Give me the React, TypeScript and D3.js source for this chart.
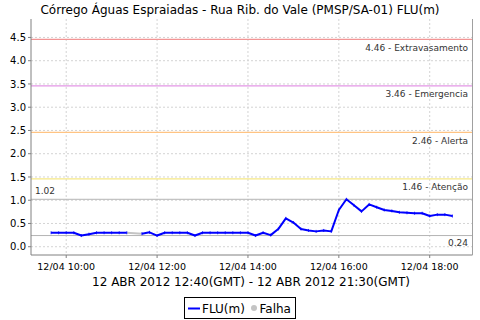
import React from "react";
import * as d3 from "d3";

const TITLE = "Córrego Águas Espraiadas - Rua Rib. do Vale (PMSP/SA-01) FLU(m)";
const SUBTITLE = "12 ABR 2012 12:40(GMT) - 12 ABR 2012 21:30(GMT)";
const START = { h: 9, m: 40 };
const STEP_MIN = 10;
// FLU(m) every 10 min from 09:40 to 18:30; null = Falha
const fluValues: (number | null)[] = [
  0.30, 0.30, 0.30, 0.30, 0.24, 0.27, 0.30, 0.30, 0.30, 0.30, 0.30,
  null,
  0.28, 0.31, 0.24, 0.30, 0.30, 0.30, 0.30, 0.24, 0.30, 0.30, 0.30, 0.30, 0.30, 0.30,
  0.30, 0.24, 0.30, 0.25, 0.38, 0.61, 0.52, 0.38, 0.35, 0.33, 0.35, 0.33,
  0.79, 1.02, 0.89, 0.76, 0.91, 0.85, 0.79, 0.77, 0.74, 0.73, 0.72, 0.72,
  0.66, 0.69, 0.69, 0.66,
];
const thresholdValues = [4.46, 3.46, 2.46, 1.46];
const thresholdLabels = ["4.46 - Extravasamento", "3.46 - Emergencia", "2.46 - Alerta", "1.46 - Atenção"];
const thresholdColors = ["#f29494", "#e396e6", "#ffc483", "#f6e886"];
const maxValue = 1.02;
const minValue = 0.24;
const yTicks = [0.0, 0.5, 1.0, 1.5, 2.0, 2.5, 3.0, 3.5, 4.0, 4.5];
const xTickHours = [10, 12, 14, 16, 18];
const xTickLabels = ["12/04 10:00", "12/04 12:00", "12/04 14:00", "12/04 16:00", "12/04 18:00"];
const legendLabels = ["FLU(m)", "Falha"];

const FONT = "DejaVu Sans, sans-serif";

export default function App() {
  const W = 480, H = 320;
  const L = 31, R = 472.5, T = 19, B = 255;
  const times = fluValues.map((_, i) => new Date(2012, 3, 12, START.h, START.m + i * STEP_MIN));
  const t0 = times[0].getTime(), t1 = times[times.length - 1].getTime();
  const pad = (t1 - t0) * 0.05;
  const x = d3.scaleTime().domain([new Date(t0 - pad), new Date(t1 + pad)]).range([L, R]);
  const y = d3.scaleLinear().domain([-0.178, 4.897]).range([B, T]);

  const pts = fluValues.map((v, i) => ({ t: times[i], v }));
  const line = d3.line<{ t: Date; v: number | null }>()
    .defined((d) => d.v !== null)
    .x((d) => x(d.t))
    .y((d) => y(d.v as number));

  const gaps: { a: { t: Date; v: number }; b: { t: Date; v: number } }[] = [];
  for (let i = 0; i < pts.length; i++) {
    if (pts[i].v === null) {
      let a = i - 1; while (a >= 0 && pts[a].v === null) a--;
      let b = i + 1; while (b < pts.length && pts[b].v === null) b++;
      if (a >= 0 && b < pts.length && !gaps.find((g) => g.a.t === pts[a].t))
        gaps.push({ a: pts[a] as any, b: pts[b] as any });
    }
  }

  const xTicks = xTickHours.map((h) => new Date(2012, 3, 12, h, 0));

  return (
    <svg width={W} height={H} style={{ position: "absolute", left: 0, top: 0, background: "#fff" }} fontFamily={FONT}>
      <rect width={W} height={H} fill="#fff" />
      <text x={240} y={13.5} fontSize={12} textAnchor="middle" fill="#000">{TITLE}</text>

      {yTicks.map((v) => (
        <line key={"gy" + v} x1={L} x2={R} y1={y(v)} y2={y(v)} stroke="#d4d4d4" strokeDasharray="2,2" />
      ))}
      {xTicks.map((t, i) => (
        <line key={"gx" + i} x1={x(t)} x2={x(t)} y1={T} y2={B} stroke="#d4d4d4" strokeDasharray="2,2" />
      ))}

      {thresholdValues.map((v, i) => (
        <g key={"th" + i}>
          <line x1={L} x2={R} y1={y(v)} y2={y(v)} stroke={thresholdColors[i]} strokeWidth={1.2} />
          <text x={468} y={y(v) + 11.5} fontSize={9} textAnchor="end" fill="#333">{thresholdLabels[i]}</text>
        </g>
      ))}
      <line x1={L} x2={R} y1={y(maxValue)} y2={y(maxValue)} stroke="#b4b4b4" />
      <text x={35} y={y(maxValue) - 5} fontSize={9} fill="#333">{maxValue.toFixed(2)}</text>
      <line x1={L} x2={R} y1={y(minValue)} y2={y(minValue)} stroke="#b4b4b4" />
      <text x={468} y={y(minValue) + 10.5} fontSize={9} textAnchor="end" fill="#333">{minValue.toFixed(2)}</text>

      {gaps.map((g, i) => (
        <line key={"gap" + i} x1={x(g.a.t)} y1={y(g.a.v)} x2={x(g.b.t)} y2={y(g.b.v)} stroke="#c4c4c4" strokeWidth={2} />
      ))}
      <path d={line(pts) || ""} fill="none" stroke="#0000ff" strokeWidth={2} strokeLinejoin="round" />
      {pts.filter((p) => p.v !== null).map((p, i) => (
        <line key={"m" + i} x1={x(p.t)} x2={x(p.t)} y1={y(p.v as number) - 1.5} y2={y(p.v as number) + 1.5} stroke="#0000ff" strokeWidth={0.8} />
      ))}

      <line x1={L} x2={L} y1={T} y2={B} stroke="#808080" />
      <line x1={L} x2={R} y1={B} y2={B} stroke="#808080" />
      <line x1={R} x2={R} y1={T} y2={B} stroke="#a0a0a0" />
      {yTicks.map((v) => (
        <g key={"yt" + v}>
          <line x1={L - 3} x2={L} y1={y(v)} y2={y(v)} stroke="#808080" />
          <text x={26} y={y(v) + 3.6} fontSize={10} textAnchor="end" fill="#000">{v.toFixed(1)}</text>
        </g>
      ))}
      {xTicks.map((t, i) => (
        <g key={"xt" + i}>
          <line x1={x(t)} x2={x(t)} y1={B} y2={B + 3} stroke="#808080" />
          <text x={x(t)} y={269.5} fontSize={9.5} textAnchor="middle" fill="#000">{xTickLabels[i]}</text>
        </g>
      ))}
      <text x={251} y={286} fontSize={12} textAnchor="middle" fill="#000">{SUBTITLE}</text>

      <rect x={184.5} y={297.5} width={111} height={21} fill="#fff" stroke="#000" />
      <line x1={188} x2={200} y1={308.5} y2={308.5} stroke="#0000ff" strokeWidth={2} />
      <text x={202} y={313} fontSize={12} fill="#000">{legendLabels[0]}</text>
      <circle cx={254} cy={308} r={3} fill="#c4c4c4" />
      <text x={259.5} y={313} fontSize={12} fill="#000">{legendLabels[1]}</text>
    </svg>
  );
}
